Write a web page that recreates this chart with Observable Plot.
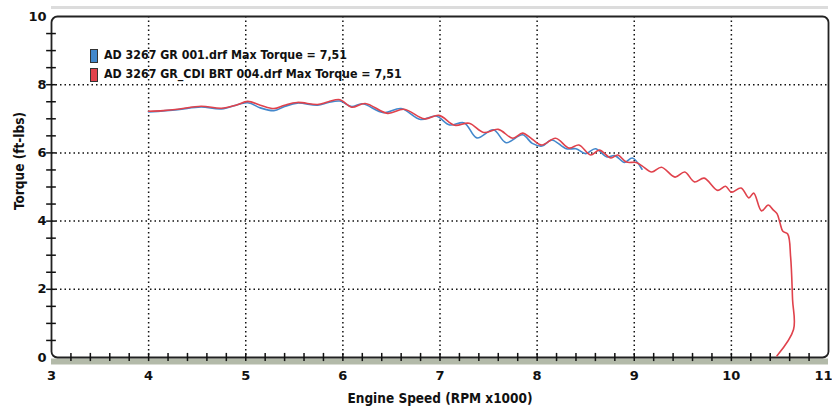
<!DOCTYPE html>
<html><head><meta charset="utf-8">
<script src="https://cdn.jsdelivr.net/npm/d3@7"></script>
<script src="https://cdn.jsdelivr.net/npm/@observablehq/plot@0.6"></script>
<style>
body{margin:0;background:#fff;}
#wrap{position:relative;width:832px;height:409px;overflow:hidden;}
.legend{position:absolute;left:90px;top:46px;font-family:"DejaVu Sans Condensed","DejaVu Sans",sans-serif;font-weight:bold;font-size:12.3px;color:#111;line-height:19px;}
.legend .row{display:flex;align-items:center;white-space:nowrap;}
.legend .sw{width:6px;height:12px;border:1px solid #333;margin-right:6px;}
.ytitle{position:absolute;left:19px;top:161px;transform:translate(-50%,-50%) rotate(-90deg);font-family:"DejaVu Sans Condensed","DejaVu Sans",sans-serif;font-weight:bold;font-size:13.5px;white-space:nowrap;color:#111;}
.xtitle{position:absolute;left:440px;top:398px;transform:translate(-50%,-50%);font-family:"DejaVu Sans Condensed","DejaVu Sans",sans-serif;font-weight:bold;font-size:13.5px;white-space:nowrap;color:#111;}
</style></head><body><div id="wrap"></div>
<script>
// Red run (AD 3267 GR_CDI BRT 004)
const redRpm    = [4.00,4.15,4.30,4.54,4.75,4.90,5.02,5.15,5.29,5.40,5.53,5.74,5.85,5.97,6.09,6.23,6.46,6.63,6.84,6.99,7.15,7.30,7.45,7.60,7.75,7.85,7.95,8.05,8.19,8.33,8.43,8.55,8.64,8.76,8.83,8.92,9.02,9.08,9.18,9.28,9.42,9.52,9.62,9.72,9.86,9.94,10.00,10.10,10.18,10.23,10.31,10.38,10.43,10.47,10.50,10.53,10.58,10.61,10.63,10.64,10.47];
const redTorque = [7.22,7.24,7.28,7.37,7.31,7.40,7.51,7.40,7.30,7.40,7.48,7.42,7.50,7.56,7.34,7.45,7.16,7.28,7.00,7.10,6.81,6.87,6.60,6.69,6.43,6.58,6.40,6.23,6.43,6.14,6.23,5.94,6.08,5.85,5.94,5.73,5.72,5.62,5.44,5.58,5.29,5.44,5.15,5.26,4.90,5.02,4.85,4.97,4.68,4.82,4.30,4.47,4.33,4.22,3.95,3.70,3.62,2.95,1.70,0.82,0.05];
// Blue run (AD 3267 GR 001)
const blueRpm    = [4.00,4.30,4.54,4.75,5.02,5.15,5.29,5.40,5.53,5.74,5.85,5.97,6.09,6.20,6.42,6.60,6.80,6.96,7.10,7.25,7.38,7.55,7.68,7.85,7.95,8.05,8.15,8.30,8.40,8.50,8.60,8.72,8.80,8.90,8.98,9.08];
const blueTorque = [7.20,7.27,7.35,7.29,7.47,7.32,7.24,7.36,7.46,7.40,7.48,7.52,7.36,7.44,7.18,7.30,6.98,7.08,6.82,6.88,6.44,6.68,6.30,6.53,6.28,6.20,6.38,6.12,6.12,5.98,6.12,5.88,5.92,5.72,5.85,5.52];

const seriesNames  = ["AD 3267 GR 001.drf Max Torque = 7,51", "AD 3267 GR_CDI BRT 004.drf Max Torque = 7,51"];
const seriesColors = ["#4388cc", "#e0424c"];
const xTicks = [3,4,5,6,7,8,9,10,11];
const yTicks = [0,2,4,6,8,10];
const xLabel = "Engine Speed (RPM x1000)";
const yLabel = "Torque (ft-lbs)";

const blue = blueRpm.map((x,i)=>({x, y: blueTorque[i]}));
const red  = redRpm.map((x,i)=>({x, y: redTorque[i]}));
const xMinor = d3.range(3.2, 10.99, 0.2);
const yMinor = d3.range(0.5, 9.99, 0.5);

const plot = Plot.plot({
  width: 832, height: 409,
  marginLeft: 51, marginRight: 4, marginTop: 16, marginBottom: 52,
  x: {domain: [3, 11]},
  y: {domain: [0, 10]},
  style: {fontFamily: "'DejaVu Sans','DejaVu Sans Condensed',sans-serif", background: "transparent", color: "#111"},
  marks: [
    Plot.ruleY([10], {dy: -9, stroke: "#dcdcdc", strokeWidth: 3}),
    Plot.ruleY([0], {dy: 4, stroke: "#b3baa9", strokeWidth: 6}),
    Plot.gridX(xTicks.slice(1, -1), {stroke: "#111", strokeOpacity: 1, strokeWidth: 1.5, strokeDasharray: "1.5,3"}),
    Plot.gridY(yTicks.slice(1, -1), {stroke: "#111", strokeOpacity: 1, strokeWidth: 1.5, strokeDasharray: "1.5,3"}),
    Plot.frame({rx: 6, stroke: "#222", strokeWidth: 1.8}),
    Plot.ruleX(xMinor, {y1: -0.12, y2: 0.12, stroke: "#111", strokeWidth: 1.5}),
    Plot.ruleY(yMinor, {x1: 2.95, x2: 3.05, stroke: "#111", strokeWidth: 1.5}),
    Plot.axisX(xTicks.slice(0, -1), {tickSize: 0, tickPadding: 13, fontSize: 13, label: null}),
    Plot.axisX(xTicks.slice(-1), {tickSize: 0, tickPadding: 13, fontSize: 13, label: null, textAnchor: "end", dx: 4}),
    Plot.axisY(yTicks, {tickSize: 0, tickPadding: 5, fontSize: 13, label: null}),
    Plot.line(blue, {x: "x", y: "y", stroke: seriesColors[0], strokeWidth: 1.6, curve: "catmull-rom"}),
    Plot.line(red, {x: "x", y: "y", stroke: seriesColors[1], strokeWidth: 1.6, curve: "catmull-rom"})
  ]
});

d3.select(plot).selectAll("text").attr("font-weight", "bold").style("font-weight", "bold");

const wrap = document.getElementById("wrap");
wrap.appendChild(plot);

const legend = document.createElement("div");
legend.className = "legend";
seriesNames.forEach((name, i) => {
  const row = document.createElement("div");
  row.className = "row";
  const sw = document.createElement("span");
  sw.className = "sw";
  sw.style.background = seriesColors[i];
  row.appendChild(sw);
  const t = document.createElement("span");
  t.textContent = name;
  row.appendChild(t);
  legend.appendChild(row);
});
wrap.appendChild(legend);

const yt = document.createElement("div");
yt.className = "ytitle"; yt.textContent = yLabel; wrap.appendChild(yt);
const xt = document.createElement("div");
xt.className = "xtitle"; xt.textContent = xLabel; wrap.appendChild(xt);
</script>
</body></html>
